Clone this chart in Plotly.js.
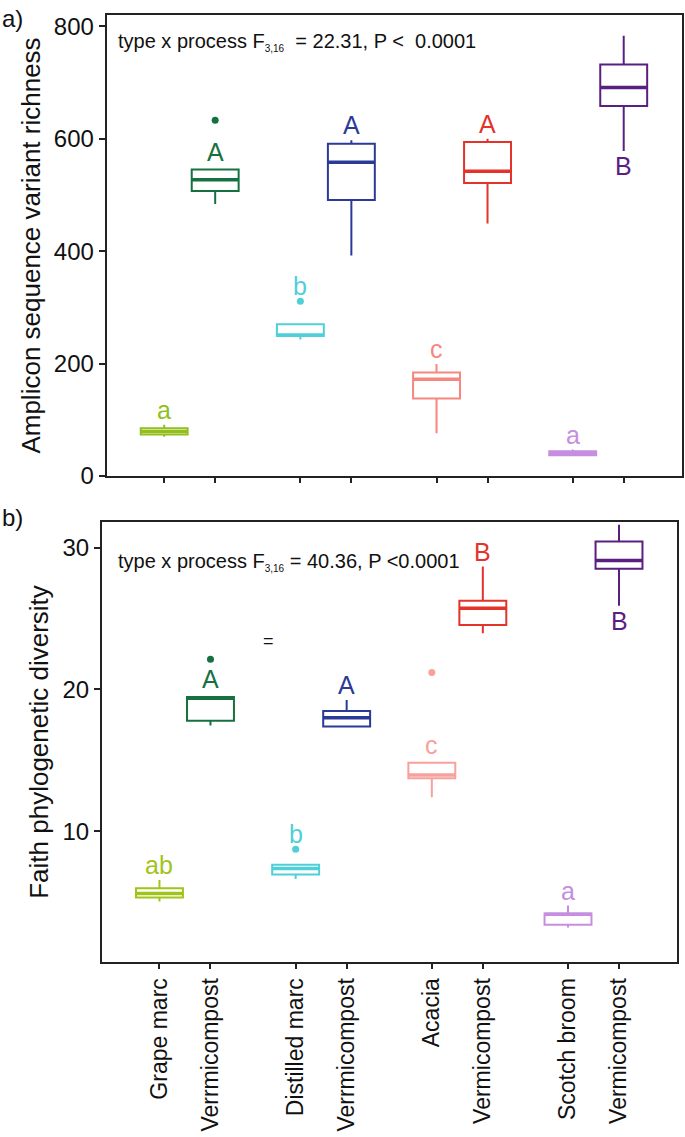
<!DOCTYPE html>
<html>
<head>
<meta charset="utf-8">
<script src="https://cdn.plot.ly/plotly-3.0.1.min.js"></script>
<style>
  html, body { margin: 0; padding: 0; background: #ffffff; }
  #chart { width: 685px; height: 1137px; }
</style>
</head>
<body>
<div id="chart"></div>
<script>
// ---------- data ----------
const categories = ['Grape marc', 'Verrmicompost', 'Distilled marc', 'Verrmicompost',
                    'Acacia', 'Vermicompost', 'Scotch broom', 'Vermicompost'];
const groupIndex   = [0, 0, 1, 1, 2, 2, 3, 3];
const processIndex = [0, 1, 0, 1, 0, 1, 0, 1];
const colorsA = ['#93bf1e', '#17703f', '#4fcfd8', '#2b3a97',
                 '#f6877f', '#e3332a', '#c68ee0', '#5a1f7f'];
const colorsB = ['#a2c41a', '#17703f', '#4fcfd8', '#2b3a97',
                 '#f8a09b', '#e3332a', '#c68ee0', '#5a1f7f'];

// panel a) ASV richness (box statistics)
const richLow     = [70, 484, 243, 392, 76, 449, 37, 578];
const richQ1      = [74, 507, 249, 491, 138, 521, 37, 658];
const richMedian  = [79, 527, 251, 558, 172, 542, 40, 691];
const richQ3      = [85, 545, 270, 591, 184, 594, 44, 732];
const richHigh    = [91, 545, 270, 597, 199, 600, 47, 783];
const richOutlier = [null, 633, 311, null, null, null, null, null];
const richLetters = ['a', 'A', 'b', 'A', 'c', 'A', 'a', 'B'];
const richLetterAnchor = ['max', 'q3', 'max', 'max', 'max', 'max', 'max', 'min'];
const richTicks = [0, 200, 400, 600, 800];

// panel b) Faith phylogenetic diversity (box statistics)
const pdLow     = [5.06, 17.47, 6.64, 17.40, 12.40, 23.96, 3.23, 25.90];
const pdQ1      = [5.35, 17.80, 6.97, 17.40, 13.74, 24.55, 3.42, 28.50];
const pdMedian  = [5.63, 19.38, 7.39, 18.01, 13.97, 25.72, 4.17, 29.08];
const pdQ3      = [6.00, 19.47, 7.65, 18.48, 14.84, 26.26, 4.22, 30.42];
const pdHigh    = [6.57, 19.47, 7.65, 19.26, 14.84, 28.66, 4.78, 31.60];
const pdOutlier = [null, 22.13, 8.75, null, 21.2, null, null, null];
const pdLetters = ['ab', 'A', 'b', 'A', 'c', 'B', 'a', 'B'];
const pdLetterAnchor = ['max', 'q3', 'max', 'max', 'q3', 'max', 'max', 'min'];
const pdTicks = [10, 20, 30];

const statTextA = 'type x process F<sub><span style="font-size:10px">3,16</span></sub>&nbsp;&nbsp;= 22.31, P &lt;&nbsp;&nbsp;0.0001';
const statTextB = 'type x process F<sub><span style="font-size:10px">3,16</span></sub> = 40.36, P &lt;0.0001';

// ---------- layout constants ----------
const GROUP_SPACING = 2.67;
const BOX_WIDTH = 0.92;
const LETTER_GAP = 15;   // px
const FONT = 'Liberation Sans, Arial, sans-serif';
const NARROW = 'Liberation Sans Narrow, Liberation Sans, Arial, sans-serif';
const positions = groupIndex.map((g, i) => g * GROUP_SPACING + processIndex[i]);

const traces = [];
const annotations = [];

function addPanel(xref, yref, colors, low, q1, med, q3, high, outl, letters, anchors) {
  positions.forEach((p, i) => {
    traces.push({
      type: 'box', x: [p], q1: [q1[i]], median: [med[i]], q3: [q3[i]],
      lowerfence: [low[i]], upperfence: [high[i]],
      width: BOX_WIDTH, whiskerwidth: 0, boxpoints: false,
      line: { color: colors[i], width: 2 }, fillcolor: 'rgba(255,255,255,0)',
      xaxis: xref, yaxis: yref, showlegend: false, hoverinfo: 'skip'
    });
    // thick median
    traces.push({
      type: 'scatter', mode: 'lines',
      x: [p - BOX_WIDTH / 2, p + BOX_WIDTH / 2], y: [med[i], med[i]],
      line: { color: colors[i], width: 3.5 },
      xaxis: xref, yaxis: yref, showlegend: false, hoverinfo: 'skip'
    });
    if (outl[i] !== null) {
      traces.push({
        type: 'scatter', mode: 'markers', x: [p], y: [outl[i]],
        marker: { color: colors[i], size: 7 },
        xaxis: xref, yaxis: yref, showlegend: false, hoverinfo: 'skip'
      });
    }
    let yv, shift;
    if (anchors[i] === 'min') { yv = low[i]; shift = -LETTER_GAP; }
    else if (anchors[i] === 'q3') { yv = Math.max(q3[i], high[i]); shift = LETTER_GAP + 3; }
    else { yv = Math.max(high[i], outl[i] === null ? -Infinity : outl[i]); shift = LETTER_GAP; }
    annotations.push({
      x: p, y: yv, xref: xref, yref: yref, text: letters[i], showarrow: false,
      yanchor: 'middle', yshift: shift,
      font: { family: FONT, size: 25, color: colors[i] }
    });
  });
}

addPanel('x', 'y', colorsA, richLow, richQ1, richMedian, richQ3, richHigh, richOutlier, richLetters, richLetterAnchor);
addPanel('x2', 'y2', colorsB, pdLow, pdQ1, pdMedian, pdQ3, pdHigh, pdOutlier, pdLetters, pdLetterAnchor);

annotations.push({
  xref: 'x domain', yref: 'y domain', x: 0.016, y: 0.941, xanchor: 'left', yanchor: 'middle',
  text: statTextA, showarrow: false, font: { family: FONT, size: 20, color: '#111' }
});
annotations.push({
  xref: 'x2 domain', yref: 'y2 domain', x: 0.024, y: 0.91, xanchor: 'left', yanchor: 'middle',
  text: statTextB, showarrow: false, font: { family: FONT, size: 20, color: '#111' }
});
annotations.push({
  xref: 'x2', yref: 'y2', x: 2.14, y: 23.4, text: '=', showarrow: false,
  font: { family: FONT, size: 18, color: '#111' }
});
annotations.push({
  xref: 'paper', yref: 'paper', x: 0, y: 1 - 18 / 1137, xanchor: 'left', yanchor: 'middle',
  text: 'a)', showarrow: false, font: { family: FONT, size: 24, color: '#111' }
});
annotations.push({
  xref: 'paper', yref: 'paper', x: 0, y: 1 - 517 / 1137, xanchor: 'left', yanchor: 'middle',
  text: 'b)', showarrow: false, font: { family: FONT, size: 24, color: '#111' }
});

const xRange = [-1.127, 10.147];
const axisCommon = {
  showline: true, mirror: true, linewidth: 2, linecolor: '#222',
  ticks: 'outside', tickcolor: '#222', tickwidth: 2, ticklen: 6,
  showgrid: false, zeroline: false
};

const layout = {
  width: 685, height: 1137,
  margin: { l: 0, r: 0, t: 0, b: 0 },
  paper_bgcolor: '#ffffff', plot_bgcolor: '#ffffff',
  font: { family: FONT, color: '#111' },
  xaxis: Object.assign({}, axisCommon, {
    domain: [106.7 / 685, 681.7 / 685], range: xRange, anchor: 'y',
    tickmode: 'array', tickvals: positions, ticktext: categories,
    showticklabels: false, ticklen: 5
  }),
  yaxis: Object.assign({}, axisCommon, {
    domain: [(1137 - 476) / 1137, (1137 - 15) / 1137], range: [0, 820], anchor: 'x',
    tickmode: 'array', tickvals: richTicks,
    tickfont: { family: NARROW, size: 24, color: '#111' },
    title: { text: 'Amplicon sequence variant richness', font: { family: FONT, size: 26, color: '#111' }, standoff: 6 }
  }),
  xaxis2: Object.assign({}, axisCommon, {
    domain: [102 / 685, 677 / 685], range: xRange, anchor: 'y2',
    tickmode: 'array', tickvals: positions, ticktext: categories,
    tickangle: -90, ticklen: 5,
    tickfont: { family: FONT, size: 23, color: '#111' }
  }),
  yaxis2: Object.assign({}, axisCommon, {
    domain: [(1137 - 962) / 1137, (1137 - 522) / 1137], range: [0.8, 31.8], anchor: 'x2',
    tickmode: 'array', tickvals: pdTicks,
    tickfont: { family: NARROW, size: 24, color: '#111' },
    title: { text: 'Faith phylogenetic diversity', font: { family: FONT, size: 26, color: '#111' }, standoff: 6 }
  }),
  annotations: annotations
};

Plotly.newPlot('chart', traces, layout, { displayModeBar: false, staticPlot: true });
</script>
</body>
</html>
